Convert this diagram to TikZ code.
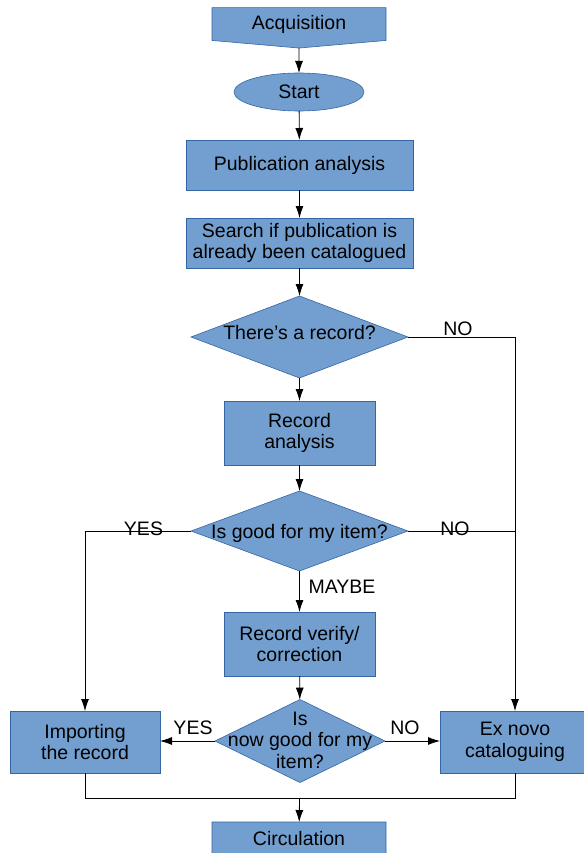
\documentclass[tikz,border=0pt]{standalone}
\usepackage{fontspec}
\setmainfont{Liberation Sans}
\usetikzlibrary{shapes.geometric,shapes.symbols,arrows.meta}
\definecolor{boxblue}{HTML}{729FCF}
\definecolor{boxline}{HTML}{3465A4}

\begin{document}
\begin{tikzpicture}[x=1pt, y=-1pt, line width=0.8pt,
    >={Latex[length=12pt,width=8pt]},
    every node/.style={font=\fontsize{19.5}{21.5}\selectfont, inner sep=0pt, outer sep=0pt},
    box/.style={rectangle, draw=boxline, line width=0.6pt, fill=boxblue, align=center, minimum width=227pt, minimum height=50pt},
    smallbox/.style={box, minimum width=151pt, minimum height=64pt},
    sidebox/.style={box, minimum width=150pt, minimum height=62pt},
    decision/.style={diamond, draw=boxline, line width=0.6pt, fill=boxblue, minimum width=217pt, minimum height=82pt},
    pagebox/.style={signal, signal to=south, signal pointer angle=170, draw=boxline, line width=0.6pt, fill=boxblue, minimum width=174pt, minimum height=37pt},
    answer/.style={fill=none}
  ]
  \useasboundingbox (0,0) rectangle (583,853);

  % Main column
  \node[pagebox] (acq) at (299,24) {Acquisition};
  \node[ellipse, draw=boxline, line width=0.6pt, fill=boxblue, minimum width=130pt, minimum height=38pt] (start) at (299,92) {Start};
  \node[box] (pub) at (299.5,165) {Publication analysis};
  \node[box] (search) at (299.5,243) {Search if publication is\\already been catalogued};
  \node[decision, label={[yshift=4pt]center:There's a record?}] (d1) at (299.5,337) {};
  \node[smallbox] (rec) at (299.5,433) {Record\\analysis};
  \node[decision, minimum height=80pt, label={[yshift=-2pt]center:Is good for my item?}] (d2) at (299.5,531) {};
  \node[smallbox] (verify) at (299.5,644) {Record verify/\\correction};
  \node[decision, minimum width=170pt, minimum height=83pt, label={[align=center, yshift=1pt]center:Is\\now good for my\\item?}] (d3) at (300,741) {};

  % Side boxes
  \node[sidebox] (imp) at (85,742) {Importing\\the record};
  \node[sidebox] (exn) at (515,742) {Ex novo\\cataloguing};
  \coordinate (join) at (299.5,798);
  \node[pagebox] (circ) at (299,838.5) {Circulation};

  % Straight down
  \draw[->] (acq) -- (start);
  \draw[->] (start) -- (pub);
  \draw[->] (pub) -- (search);
  \draw[->] (search) -- (d1);
  \draw[->] (d1) -- (rec);
  \draw[->] (rec) -- (d2);
  \draw[->] (d2) -- (verify);
  \draw[->] (verify) -- (d3);

  % Branches
  \draw[->] (d1.east) -| (exn.north);
  \draw (d2.east) -- (d2.east -| exn.north);
  \draw[->] (d2.west) -| (imp.north);
  \draw[->] (d3.west) -- (d3.west -| imp.east);
  \draw[->] (d3.east) -- (d3.east -| exn.west);

  % Merge
  \draw (imp.south) |- (join) -| (exn.south);
  \draw[->] (join) -- (circ);

  % Answers
  \node[answer] (no1) at (458,329) {NO};
  \node[answer] (yes2) at (143.5,529) {YES};
  \node[answer] (no2) at (455,529) {NO};
  \node[answer] (maybe) at (342,587) {MAYBE};
  \node[answer] (yes3) at (193,728) {YES};
  \node[answer] (no3) at (405,728) {NO};
\end{tikzpicture}
\end{document}
